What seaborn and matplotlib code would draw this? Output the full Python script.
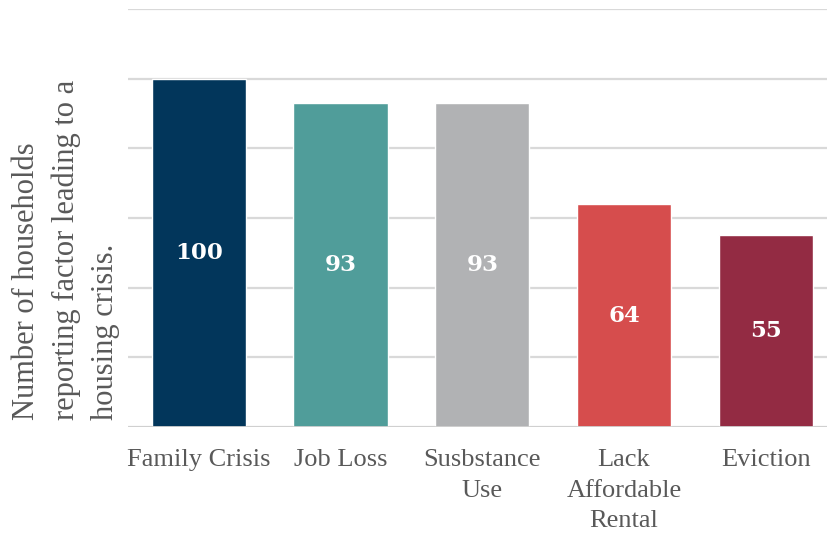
import matplotlib
matplotlib.use("Agg")
import matplotlib.pyplot as plt
import seaborn as sns
import pandas as pd

categories = ["Family Crisis", "Job Loss", "Susbstance\nUse", "Lack\nAffordable\nRental", "Eviction"]
values = [100, 93, 93, 64, 55]
colors = ["#02365B", "#509D9A", "#B1B2B4", "#D64D4D", "#932B43"]

sns.set_theme(style="white")
plt.rcParams['font.family'] = ['Liberation Serif', 'DejaVu Serif']

df = pd.DataFrame({"cat": categories, "val": values})

fig = plt.figure(figsize=(8.28, 5.33), dpi=100)
ax = fig.add_axes([128/828, 106/533, 700/828, 418/533])

sns.barplot(data=df, x="cat", y="val", hue="cat", palette=colors, legend=False,
            width=0.665, saturation=1, ax=ax, zorder=3)

ax.set_ylim(0, 120)
ax.set_xlim(-0.5, 4.44)
ax.set_yticks([0, 20, 40, 60, 80, 100, 120])
ax.set_yticklabels([])
ax.tick_params(axis='y', length=0)
ax.tick_params(axis='x', length=0, pad=16)
ax.grid(axis='y', color='#D9D9D9', linewidth=1.6, zorder=0)
ax.grid(axis='x', visible=False)
for s in ax.spines.values():
    s.set_visible(False)
ax.axhline(0, color='#D0D0D0', linewidth=2, zorder=4)

for lbl in ax.get_xticklabels():
    lbl.set_fontsize(19)
    lbl.set_color('#595959')
    lbl.set_linespacing(1.5)
ax.set_xlabel("")
ax.set_ylabel("")

for i, v in enumerate(values):
    ax.text(i, v / 2, f"{v}", ha='center', va='center', color='white',
            fontsize=16.5, fontweight='bold', family='DejaVu Serif', zorder=5)

fig.text(66/828, 113/533, "Number of households\nreporting factor leading to a\nhousing crisis.",
         rotation=90, ha='center', va='bottom', multialignment='left',
         fontsize=22, color='#595959', linespacing=1.48)

fig.savefig("out.png", dpi=100)
